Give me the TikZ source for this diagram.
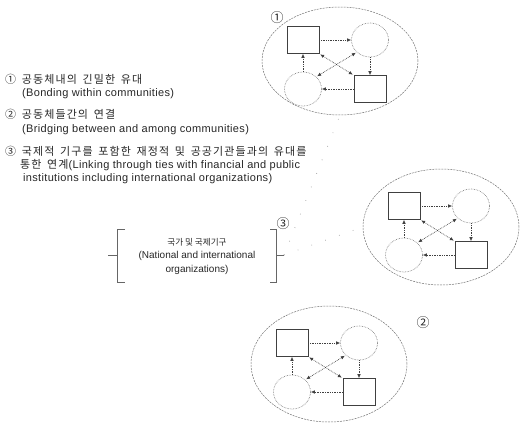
\documentclass[tikz,border=0pt]{standalone}
\usepackage{fontspec}
\setmainfont{Liberation Sans}
\newfontfamily\kr{Noto Sans CJK KR}
\newfontfamily\krw[LetterSpace=10,WordSpace=1.6]{Noto Sans CJK KR}
\usetikzlibrary{shapes.geometric,arrows.meta}
\tikzset{
 sq/.style={draw=black!75, line width=0.6pt, minimum width=32pt, minimum height=27pt, inner sep=0pt},
 cir/.style={ellipse, draw=black!60, densely dotted, line width=0.6pt, minimum width=37pt, minimum height=34pt, inner sep=0pt},
 big/.style={ellipse, draw=black!55, dash pattern=on 2pt off 1pt, line width=0.5pt, minimum width=156pt, minimum height=112pt, inner sep=0pt},
 tipk/.tip={Latex[length=4pt,width=3.6pt]},
 lnk/.style={densely dotted, line width=0.7pt, draw=black!75, -tipk},
 dlnk/.style={densely dotted, line width=0.7pt, draw=black!75, tipk-tipk, shorten >=1pt, shorten <=1pt},
 txt/.style={anchor=west, inner sep=0pt, font=\addfontfeature{LetterSpace=3}\fontsize{11}{13}\selectfont, text=black!85},
 ktxt/.style={anchor=west, inner sep=0pt, font=\krw\fontsize{11}{13}\selectfont, text=black!85},
 num/.style={inner sep=0pt, font=\kr\fontsize{13}{14}\selectfont, text=black!85},
 brk/.style={draw=black!60, line width=0.6pt},
 faint/.style={draw=black!40, line width=0.8pt, dash pattern=on 0.6pt off 14pt},
}
\newcommand\cluster[4]{%
 \begin{scope}[shift={(#2,#3)}]
  \node[big, minimum height=#4pt] (#1e) at (0,0) {};
  \node[sq]  (#1a) at (-37,-21) {};
  \node[cir] (#1b) at (30,-21) {};
  \node[cir] (#1c) at (-37,28) {};
  \node[sq]  (#1d) at (30,28) {};
 \end{scope}
 \draw[lnk] (#1a) -- (#1b);
 \draw[lnk] (#1b) -- (#1d);
 \draw[lnk] (#1d) -- (#1c);
 \draw[lnk] (#1c) -- (#1a);
 \draw[dlnk] (#1a.south east) -- (#1d.north west);
 \draw[dlnk] (#1b.south west) -- (#1c.north east);
}
\begin{document}
\begin{tikzpicture}[x=1pt,y=-1pt]
\useasboundingbox (0,0) rectangle (520,425);
% clusters
\cluster{p}{340}{61}{108}
\cluster{q}{441}{227}{116}
\cluster{r}{329}{364}{116}
\node[num] (n1) at (277,18) {①};
\node[num] (n2) at (423,323) {②};
\node[num] (n3) at (283,224) {③};
% left text
\node[ktxt] (t1) at (5,79) {① 공동체내의 긴밀한 유대};
\node[txt]  (t2) at (22,94) {(Bonding within communities)};
\node[ktxt] (t3) at (5,114) {② 공동체들간의 연결};
\node[txt]  (t4) at (22,130) {(Bridging between and among communities)};
\node[ktxt] (t5) at (5,151) {③ 국제적 기구를 포함한 재정적 및 공공기관들과의 유대를};
\node[txt]  (t6) at (20,165) {{\krw\fontsize{11}{13}\selectfont 통한 연계}(Linking through ties with financial and public};
\node[txt]  (t7) at (23,179) {institutions including international organizations)};
% bracket group
\node[inner sep=0pt, align=center, font=\fontsize{10}{13.5}\selectfont, text=black!85] (nat) at (197,256)
 {{\kr\fontsize{8.6}{12}\selectfont 국가 및 국제기구}\\(National and international\\organizations)};
\coordinate (la) at (125,229);
\coordinate (lb) at (117,229);
\coordinate (lc) at (117,282);
\coordinate (ld) at (125,282);
\coordinate (lm) at (117,255);
\coordinate (lt) at (108,255);
\coordinate (ra) at (270,229);
\coordinate (rb) at (276,229);
\coordinate (rc) at (276,282);
\coordinate (rd) at (270,282);
\coordinate (rm) at (276,255);
\coordinate (rt) at (284,255);
\draw[brk] (la) -- (lb) -- (lc) -- (ld);
\draw[brk] (lm) -- (lt);
\draw[brk] (ra) -- (rb) -- (rc) -- (rd);
\draw[brk] (rm) -- (rt);
% faint links
\draw[faint] (rt) -- (pe.south);
\draw[faint] (rt) -- (qe.west);
\end{tikzpicture}
\end{document}
